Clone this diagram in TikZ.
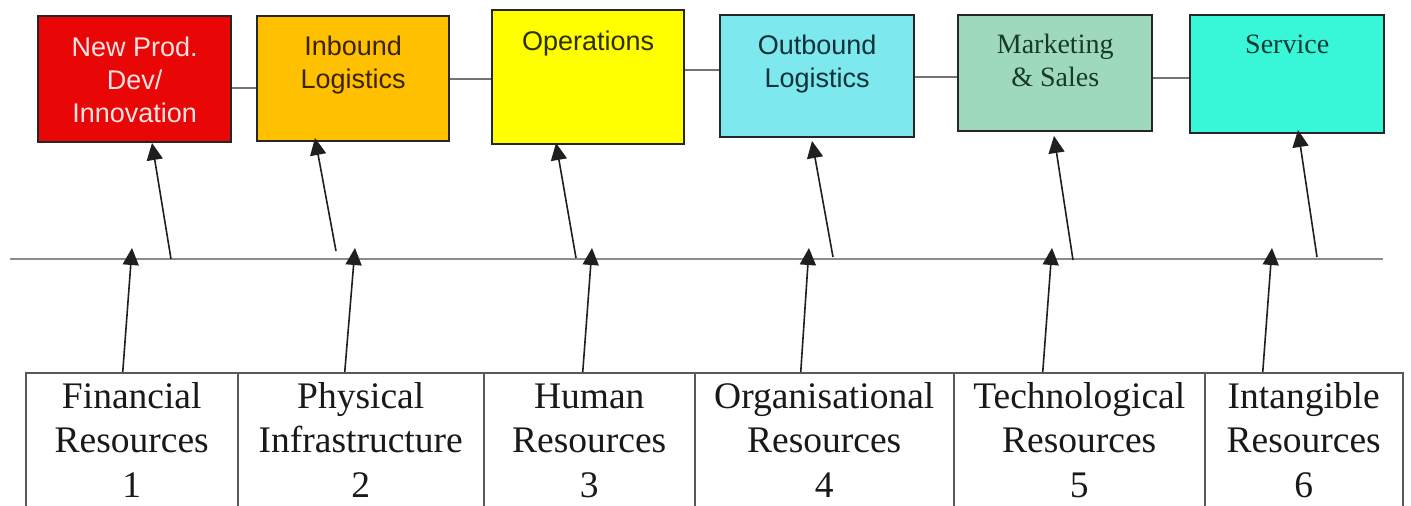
\documentclass[tikz,border=0pt]{standalone}
\usepackage{fontspec}
\setmainfont{Liberation Serif}
\newfontfamily\arialf{Liberation Sans}
\usetikzlibrary{arrows.meta}
\definecolor{cRed}{HTML}{E80606}
\definecolor{cRedT}{HTML}{FFE2E2}
\definecolor{cOrange}{HTML}{FFC000}
\definecolor{cOrangeT}{HTML}{3A2400}
\definecolor{cYellow}{HTML}{FFFF00}
\definecolor{cYellowT}{HTML}{2E2E00}
\definecolor{cCyan}{HTML}{7DE8EE}
\definecolor{cCyanT}{HTML}{0E3238}
\definecolor{cMkt}{HTML}{9ED9BC}
\definecolor{cMktT}{HTML}{173A2A}
\definecolor{cSrv}{HTML}{38F7D8}
\definecolor{cSrvT}{HTML}{0E3A34}
\newcommand\tstrut{\rule{0pt}{22pt}}
\newcommand\bstrut{\rule{0pt}{30pt}}
\begin{document}
\begin{tikzpicture}[x=1pt,y=-1pt,
  topbox/.style={draw=black!85, line width=2.4pt, inner sep=0pt, anchor=north west},
  resbox/.style={draw=black!65, line width=1.5pt, inner sep=0pt, anchor=north west, minimum height=150pt},
  sanstxt/.style={font=\arialf\fontsize{27}{33}\selectfont, align=center, anchor=north, inner sep=0pt},
  seriftxt/.style={font=\fontsize{28}{33}\selectfont, align=center, anchor=north, inner sep=0pt},
  restxt/.style={font=\fontsize{37.5}{44.5}\selectfont, align=center, anchor=north, inner sep=0pt, text=black!90},
  link/.style={draw=black!55, line width=1.5pt},
  spine/.style={draw=black!45, line width=2pt},
  arr/.style={draw=black!88, line width=1.6pt, -{Triangle[length=17pt,width=16pt]}}]
\fill[white] (0,0) rectangle (1411,506);
\clip (0,0) rectangle (1411,506);

% value chain boxes
\node[topbox, fill=cRed, minimum width=193pt, minimum height=126pt] (b1) at (37,15) {};
\node[topbox, fill=cOrange, minimum width=192pt, minimum height=125pt] (b2) at (256,15) {};
\node[topbox, fill=cYellow, minimum width=192pt, minimum height=134pt] (b3) at (491,9) {};
\node[topbox, fill=cCyan, minimum width=194pt, minimum height=122pt] (b4) at (719,14) {};
\node[topbox, fill=cMkt, minimum width=194pt, minimum height=116pt] (b5) at (957,14) {};
\node[topbox, fill=cSrv, minimum width=194pt, minimum height=118pt] (b6) at (1189,14) {};

\node[sanstxt, text=cRedT] (b1t) at ([yshift=-19pt]b1.north) {\tstrut New Prod.\\Dev/\\Innovation};
\node[sanstxt, text=cOrangeT] (b2t) at ([yshift=-18pt]b2.north) {\tstrut Inbound\\Logistics};
\node[sanstxt, text=cYellowT] (b3t) at ([yshift=-19pt]b3.north) {\tstrut Operations};
\node[sanstxt, text=cCyanT] (b4t) at ([yshift=-18pt]b4.north) {\tstrut Outbound\\Logistics};
\node[seriftxt, text=cMktT] (b5t) at ([yshift=-17pt]b5.north) {\tstrut Marketing\\\& Sales};
\node[seriftxt, text=cSrvT] (b6t) at ([yshift=-17pt]b6.north) {\tstrut Service};

\draw[link] (b1.east |- 0,88) -- (b2.west |- 0,88);
\draw[link] (b2.east |- 0,79) -- (b3.west |- 0,79);
\draw[link] (b3.east |- 0,70) -- (b4.west |- 0,70);
\draw[link] (b4.east |- 0,77) -- (b5.west |- 0,77);
\draw[link] (b5.east |- 0,78) -- (b6.west |- 0,78);

% resource boxes
\node[resbox, minimum width=212pt] (r1) at (25,372) {};
\node[resbox, minimum width=246pt] (r2) at (237,372) {};
\node[resbox, minimum width=211pt] (r3) at (483,372) {};
\node[resbox, minimum width=259pt] (r4) at (694,372) {};
\node[resbox, minimum width=251pt] (r5) at (953,372) {};
\node[resbox, minimum width=198pt] (r6) at (1204,372) {};

\node[restxt] (r1t) at ([yshift=-6pt]r1.north) {\bstrut Financial\\Resources\\1};
\node[restxt] (r2t) at ([yshift=-6pt]r2.north) {\bstrut Physical\\Infrastructure\\2};
\node[restxt] (r3t) at ([yshift=-6pt]r3.north) {\bstrut Human\\Resources\\3};
\node[restxt] (r4t) at ([yshift=-6pt]r4.north) {\bstrut Organisational\\Resources\\4};
\node[restxt] (r5t) at ([yshift=-6pt]r5.north) {\bstrut Technological\\Resources\\5};
\node[restxt] (r6t) at ([yshift=-6pt]r6.north) {\bstrut Intangible\\Resources\\6};

% spine
\coordinate (spL) at (10,259);
\coordinate (spR) at (1383,259);
\draw[spine] (spL) -- (spR);

% lower arrows: resources to spine
\coordinate (t1) at (132,248);
\coordinate (t2) at (355,248);
\coordinate (t3) at (592,248);
\coordinate (t4) at (809,248);
\coordinate (t5) at (1052,248);
\coordinate (t6) at (1272,248);
\draw[arr] ([xshift=-9pt]r1.north) -- (t1);
\draw[arr] ([xshift=-16pt]r2.north) -- (t2);
\draw[arr] ([xshift=-6.5pt]r3.north) -- (t3);
\draw[arr] ([xshift=-23.5pt]r4.north) -- (t4);
\draw[arr] ([xshift=-36.5pt]r5.north) -- (t5);
\draw[arr] ([xshift=-41pt]r6.north) -- (t6);

% upper arrows: spine to value chain
\coordinate (u1) at (171,259);
\coordinate (u2) at (336,251);
\coordinate (u3) at (576,258);
\coordinate (u4) at (833,257);
\coordinate (u5) at (1073,260);
\coordinate (u6) at (1317,257);
\coordinate (h1) at (152,143);
\coordinate (h2) at (315,138);
\coordinate (h3) at (556,143);
\coordinate (h4) at (812,141);
\coordinate (h5) at (1054,136);
\coordinate (h6) at (1298,130);
\draw[arr] (u1) -- (h1);
\draw[arr] (u2) -- (h2);
\draw[arr] (u3) -- (h3);
\draw[arr] (u4) -- (h4);
\draw[arr] (u5) -- (h5);
\draw[arr] (u6) -- (h6);
\end{tikzpicture}
\end{document}
